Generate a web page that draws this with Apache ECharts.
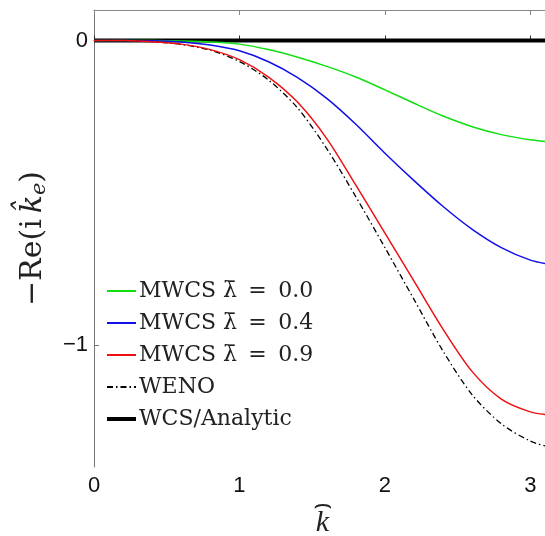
<!DOCTYPE html>
<html>
<head>
<meta charset="utf-8">
<script src="https://cdn.jsdelivr.net/npm/echarts@6/dist/echarts.min.js"></script>
<style>html,body{margin:0;padding:0;background:#fff;}#c{width:545px;height:536px;}</style>
</head>
<body>
<div id="c"></div>
<script>
// Data
const kValues = [0, 0.2, 0.4, 0.6, 0.8, 1.0, 1.2, 1.4, 1.6, 1.8, 2.0, 2.2, 2.4, 2.6, 2.8, 3.0, Math.PI];
const mwcs00 = [0, 0, -0.0005, -0.002, -0.005, -0.012, -0.03, -0.055, -0.085, -0.12, -0.162, -0.206, -0.248, -0.283, -0.309, -0.326, -0.333];
const mwcs04 = [0, 0, -0.001, -0.005, -0.015, -0.034, -0.07, -0.122, -0.19, -0.275, -0.37, -0.46, -0.545, -0.62, -0.68, -0.721, -0.735];
const mwcs09 = [0, -0.0005, -0.004, -0.012, -0.03, -0.063, -0.12, -0.203, -0.322, -0.475, -0.632, -0.79, -0.948, -1.087, -1.177, -1.219, -1.23];
const weno = [0, -0.0005, -0.004, -0.013, -0.032, -0.069, -0.13, -0.222, -0.355, -0.513, -0.68, -0.85, -1.02, -1.163, -1.258, -1.315, -1.336];
const analytic = [0, 0, 0, 0, 0, 0, 0, 0, 0, 0, 0, 0, 0, 0, 0, 0, 0];
const xTicks = [0, 1, 2, 3];
const yTicks = [-1, 0];
const seriesNames = ['MWCS λ\u0304 = 0.0', 'MWCS λ\u0304 = 0.4', 'MWCS λ\u0304 = 0.9', 'WENO', 'WCS/Analytic'];

const pairs = arr => kValues.map((k, i) => [k, arr[i]]);
const serif = '"DejaVu Serif", "Liberation Serif", serif';
const sans = '"Liberation Sans", Arial, sans-serif';

const chart = echarts.init(document.getElementById('c'), null, {renderer: 'canvas'});
const mk = (name, data, color, width, type, z) => ({
  name, type: 'line', data: pairs(data), symbol: 'none', smooth: 0.3, z,
  lineStyle: {color, width, type}, itemStyle: {color}, animation: false
});
chart.setOption({
  animation: false,
  backgroundColor: '#fff',
  grid: {left: 94, top: 10, width: 457, height: 457, containLabel: false, outerBoundsMode: 'none'},
  legend: {
    orient: 'vertical', left: 100, top: 275, itemWidth: 29, itemHeight: 14, itemGap: 10,
    data: seriesNames.map((n, i) => ({name: n, lineStyle: {width: i === 4 ? 4 : 2}})),
    itemStyle: {opacity: 0},
    formatter: n => {
      const m = n.match(/^MWCS λ\u0304 = (.*)$/);
      return m ? '{t|MWCS }{l|λ\u0304}{t| \u2009=\u2009 ' + m[1] + '}' : '{t|' + n + '}';
    },
    textStyle: {color: '#222', padding: [0, 0, 0, -2], rich: {
      t: {fontFamily: serif, fontSize: 22, color: '#222'},
      l: {fontFamily: '"DejaVu Serif", serif', fontSize: 22, color: '#222'}
    }}
  },
  xAxis: [{
    type: 'value', min: 0, max: Math.PI, position: 'bottom',
    name: '{h|\u2322}\n{k|k}', nameLocation: 'middle', nameGap: 33, nameMoveOverlap: false,
    nameTextStyle: {verticalAlign: 'top', rich: {
      h: {fontFamily: '"Liberation Serif", serif', fontSize: 30, lineHeight: 10, color: '#222'},
      k: {fontFamily: '"Liberation Serif", serif', fontStyle: 'italic', fontSize: 30, lineHeight: 26, color: '#222'}
    }},
    axisLine: {show: true, lineStyle: {color: '#333', width: 1}},
    axisTick: {show: true, inside: true, length: 5, customValues: xTicks, lineStyle: {color: '#333'}},
    axisLabel: {customValues: xTicks, fontFamily: sans, fontSize: 22, color: '#111', margin: 8},
    splitLine: {show: false}
  }, {
    type: 'value', min: 0, max: Math.PI, position: 'top',
    axisLine: {show: true, lineStyle: {color: '#888', width: 1}},
    axisTick: {show: true, inside: true, length: 5, customValues: xTicks, lineStyle: {color: '#888'}},
    axisLabel: {show: false},
    splitLine: {show: false}
  }],
  yAxis: [{
    type: 'value', min: -1.4, max: 0.1, position: 'left',
    name: '{a|\u2212Re(i\u2009}{k|k\u0302}{e|e}{a|)}', nameLocation: 'middle', nameGap: 44, nameRotate: 90,
    nameMoveOverlap: false,
    nameTextStyle: {rich: {
      a: {fontFamily: '"DejaVu Serif", serif', fontSize: 30, color: '#222'},
      k: {fontFamily: '"DejaVu Serif", serif', fontStyle: 'italic', fontSize: 30, color: '#222'},
      e: {fontFamily: '"DejaVu Serif", serif', fontStyle: 'italic', fontSize: 21, color: '#222', padding: [13, 0, 0, 0]}
    }},
    axisLine: {show: true, lineStyle: {color: '#777', width: 1}},
    axisTick: {show: true, inside: true, length: 5, customValues: yTicks, lineStyle: {color: '#777'}},
    axisLabel: {customValues: yTicks, fontFamily: sans, fontSize: 22, color: '#111', margin: 6,
      formatter: v => String(v).replace('-', '\u2212')},
    splitLine: {show: false}
  }],
  series: [
    mk(seriesNames[0], mwcs00, '#10e010', 1.5, 'solid', 3),
    mk(seriesNames[1], mwcs04, '#1010e8', 1.5, 'solid', 3),
    mk(seriesNames[2], mwcs09, '#ee1111', 1.5, 'solid', 4),
    mk(seriesNames[3], weno, '#000000', 1.3, [6, 3, 1.5, 3], 3),
    mk(seriesNames[4], analytic, '#000000', 4, 'solid', 2)
  ]
});
</script>
</body>
</html>
